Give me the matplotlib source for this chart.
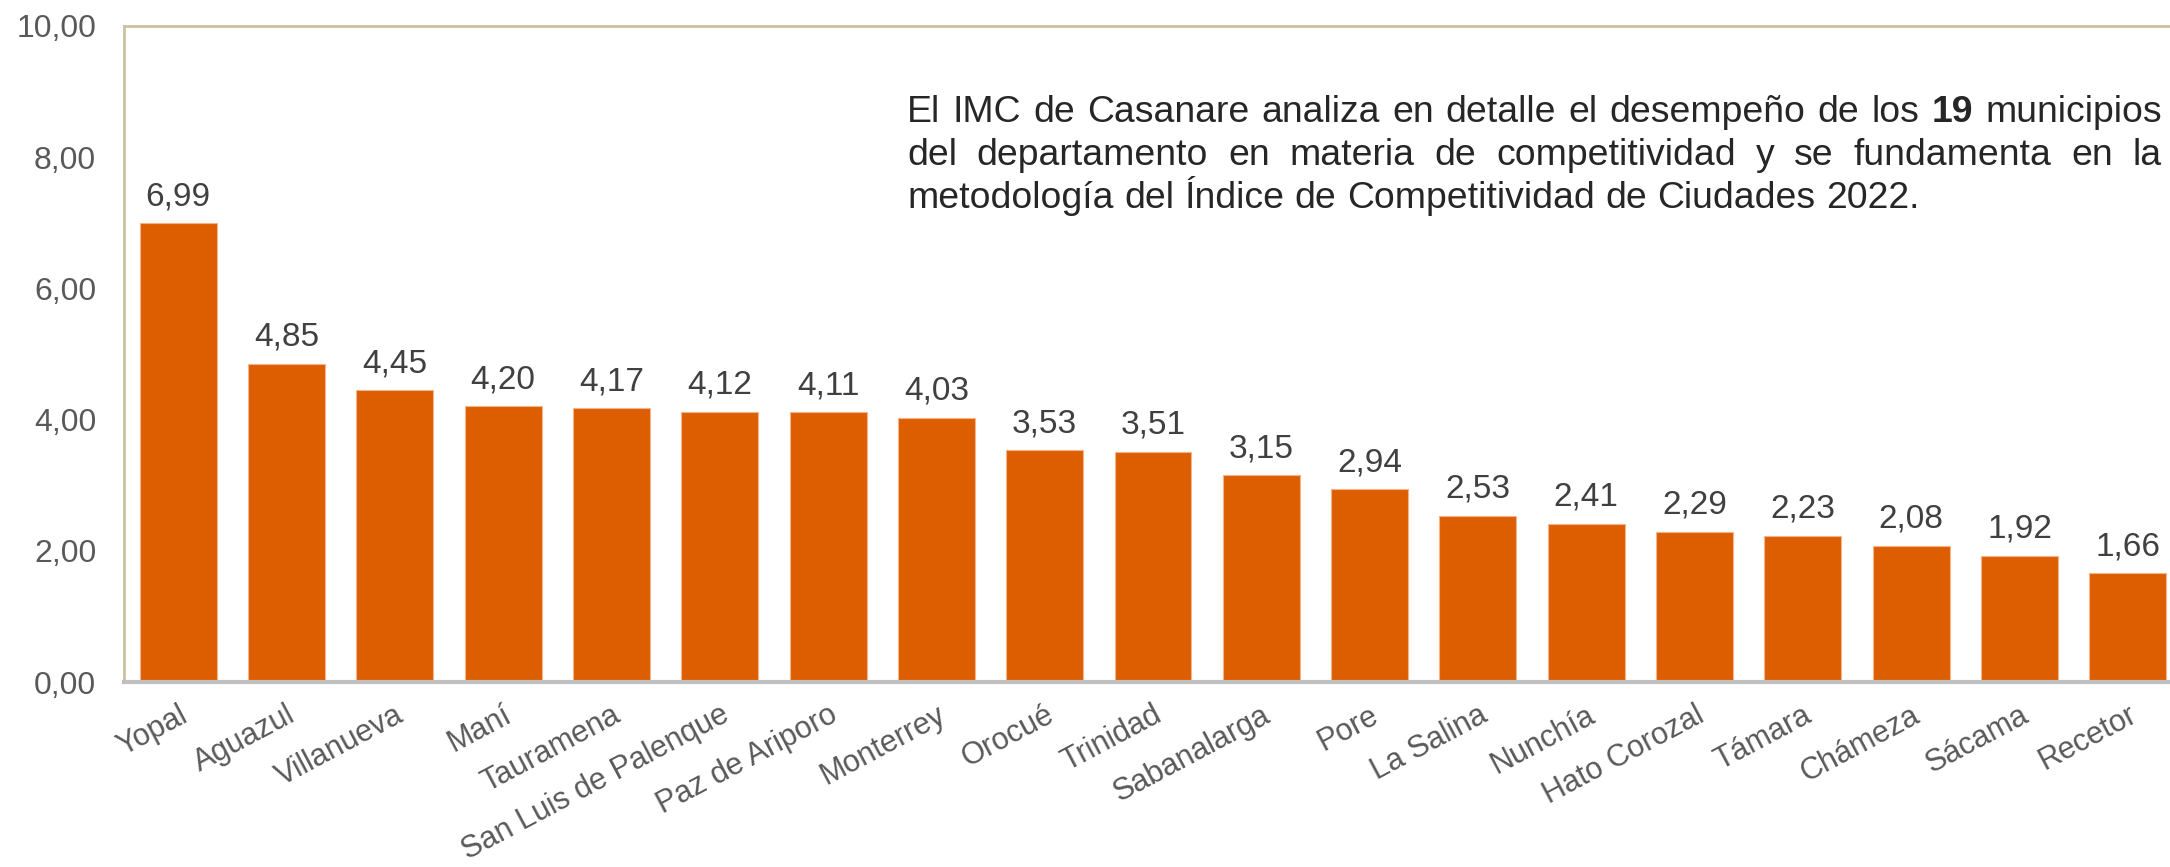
import matplotlib
matplotlib.use("Agg")
import matplotlib.pyplot as plt
from matplotlib.ticker import FuncFormatter

plt.rcParams['font.family'] = ['Liberation Sans', 'DejaVu Sans']

# Municipios de Casanare y su puntaje IMC
municipios = ['Yopal', 'Aguazul', 'Villanueva', 'Maní', 'Tauramena',
              'San Luis de Palenque', 'Paz de Ariporo', 'Monterrey', 'Orocué',
              'Trinidad', 'Sabanalarga', 'Pore', 'La Salina', 'Nunchía',
              'Hato Corozal', 'Támara', 'Chámeza', 'Sácama', 'Recetor']
puntajes = [6.99, 4.85, 4.45, 4.20, 4.17, 4.12, 4.11, 4.03, 3.53,
            3.51, 3.15, 2.94, 2.53, 2.41, 2.29, 2.23, 2.08, 1.92, 1.66]
y_ticks = [0, 2, 4, 6, 8, 10]

# Texto del recuadro, palabra por palabra (palabra, negrita)
lineas = [
    [('El', 0), ('IMC', 0), ('de', 0), ('Casanare', 0), ('analiza', 0), ('en', 0),
     ('detalle', 0), ('el', 0), ('desempeño', 0), ('de', 0), ('los', 0), ('19', 1),
     ('municipios', 0)],
    [('del', 0), ('departamento', 0), ('en', 0), ('materia', 0), ('de', 0),
     ('competitividad', 0), ('y', 0), ('se', 0), ('fundamenta', 0), ('en', 0), ('la', 0)],
    [('metodología', 0), ('del', 0), ('Índice', 0), ('de', 0), ('Competitividad', 0),
     ('de', 0), ('Ciudades', 0), ('2022.', 0)],
]

W, H = 2170, 867
fig = plt.figure(figsize=(W / 100, H / 100), dpi=100)
ax = fig.add_axes([124 / W, (H - 682) / H, (2182 - 124) / W, (682 - 26) / H])

bar_color = '#DD5E00'
x = list(range(len(municipios)))
bars = ax.bar(x, puntajes, width=0.71, color=bar_color, edgecolor='#F3B48A', linewidth=0.8, zorder=2)

for xi, v in zip(x, puntajes):
    ax.annotate(f"{v:.2f}".replace('.', ','), (xi, v), xytext=(0, 13),
                textcoords='offset points', ha='center', va='baseline',
                fontsize=24, color='#404040')

ax.set_xlim(-0.5, len(municipios) - 0.5)
ax.set_ylim(0, 10)
ax.set_yticks(y_ticks)
ax.yaxis.set_major_formatter(FuncFormatter(lambda v, p: f"{v:.2f}".replace('.', ',')))
ax.set_xticks(x)
ax.set_xticklabels(municipios)
plt.setp(ax.get_xticklabels(), rotation=28, ha='right', va='top', rotation_mode='anchor')
ax.tick_params(axis='x', length=0, pad=13, labelsize=22, labelcolor='#595959')
ax.tick_params(axis='y', length=0, pad=20, labelsize=23, labelcolor='#595959')

for s in ['left', 'top']:
    ax.spines[s].set_color('#CAC3A2')
    ax.spines[s].set_linewidth(2)
ax.spines['right'].set_visible(False)
ax.spines['bottom'].set_color('#BFBFBF')
ax.spines['bottom'].set_linewidth(3)

# Parrafo justificado, colocado palabra por palabra
renderer = fig.canvas.get_renderer()


def ancho(s, fs, bold=0):
    t = fig.text(0, 0, s, fontsize=fs, fontweight='bold' if bold else 'normal')
    w = t.get_window_extent(renderer).width
    t.remove()
    return w


fs0 = 20
espacio0 = ancho('x x', fs0) - ancho('xx', fs0)
w_last = sum(ancho(p, fs0, b) for p, b in lineas[-1]) + espacio0 * (len(lineas[-1]) - 1)
fs = fs0 * 1008 / w_last
espacio = espacio0 * fs / fs0

x_ini, x_fin = 907, 2162
baselines = [122, 165, 208]
for i, (linea, yb) in enumerate(zip(lineas, baselines)):
    anchos = [ancho(p, fs, b) for p, b in linea]
    if i < len(lineas) - 1:
        gap = (x_fin - x_ini - sum(anchos)) / (len(linea) - 1)
    else:
        gap = espacio
    xp = x_ini
    for (p, b), w in zip(linea, anchos):
        fig.text(xp / W, (H - yb) / H, p, fontsize=fs, va='baseline', ha='left',
                 fontweight='bold' if b else 'normal', color='#262626')
        xp += w + gap

fig.savefig('out.png', dpi=100)
